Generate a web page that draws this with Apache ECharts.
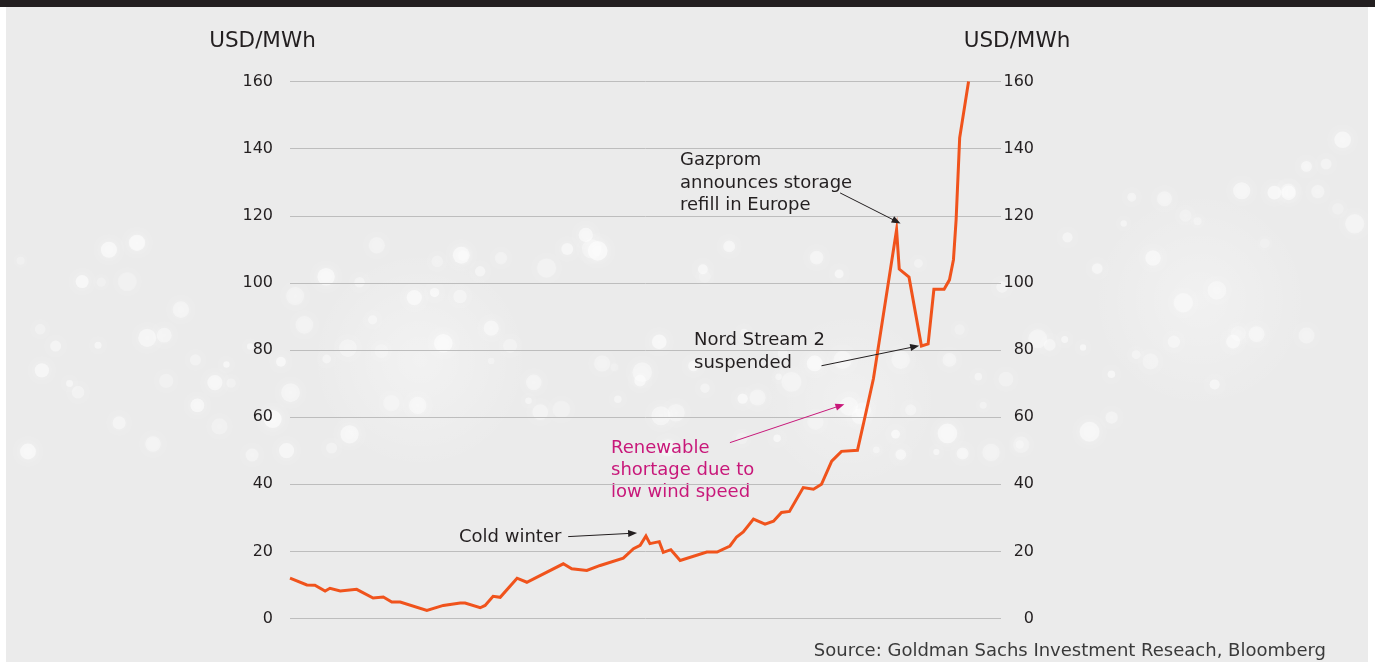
<!DOCTYPE html>
<html>
<head>
<meta charset="utf-8">
<title>Gas price</title>
<script src="https://cdn.jsdelivr.net/npm/echarts@6/dist/echarts.min.js"></script>
<style>
  html, body { margin: 0; padding: 0; background: #fff; }
  #chart { width: 1375px; height: 662px; }
</style>
</head>
<body>
<div id="chart"></div>
<script>
const weeks = [0, 3.8, 5.6, 7.9, 9.0, 11.3, 15.0, 18.7, 21.0, 22.9, 24.8, 30.8, 34.5, 38.3, 39.4,
  42.8, 43.9, 45.7, 47.3, 51.1, 53.3, 61.5, 63.4, 66.8, 69.8, 75.0, 77.3, 78.8, 80.1, 81.0,
  83.1, 84.0, 85.7, 87.8, 93.8, 96.1, 99.0, 100.5, 102.0, 104.3, 106.9, 108.8, 110.6, 112.4,
  115.5, 117.8, 119.6, 121.9, 124.1, 127.7, 129.4, 131.3, 136.5, 137.1, 139.3, 142.1, 143.6,
  144.9, 147.2, 148.4, 149.3, 149.9, 150.7, 152.7];
const price = [12.0, 10.0, 9.9, 8.2, 9.0, 8.2, 8.7, 6.1, 6.4, 4.9, 4.9, 2.4, 3.9, 4.6, 4.6,
  3.2, 3.9, 6.6, 6.3, 12.0, 10.8, 16.3, 14.8, 14.3, 15.8, 18.0, 20.8, 21.8, 24.6, 22.3,
  22.9, 19.7, 20.5, 17.3, 19.8, 19.8, 21.6, 24.3, 25.8, 29.6, 28.1, 29.0, 31.6, 31.9,
  39.0, 38.5, 40.0, 46.9, 49.8, 50.1, 60.1, 71.5, 115.8, 104.1, 101.7, 81.2, 81.8,
  98.1, 98.1, 100.9, 106.9, 118.8, 143.2, 160.0];

// annotation arrows, [from, to] in week / USD coords
const arrows = [
  { from: [62.6, 24.4], to: [77.1, 25.4], color: '#231f20' },
  { from: [99.0, 52.4], to: [123.8, 63.4], color: '#c8187a' },
  { from: [123.8, 126.8], to: [136.5, 118.3], color: '#231f20' },
  { from: [119.6, 75.3], to: [140.6, 81.0], color: '#231f20' }
];

const FONT = 'DejaVu Sans';
const chart = echarts.init(document.getElementById('chart'));

// soft bokeh dots in the background (decoration only)
const bokeh = [];
for (let i = 0; i < 150; i++) {
  const h1 = Math.abs(Math.sin(i * 12.9898) * 43758.5453) % 1;
  const h2 = Math.abs(Math.sin(i * 78.233) * 12345.678) % 1;
  const h3 = Math.abs(Math.sin(i * 3.7) * 9876.54) % 1;
  const x = 10 + (i / 150) * 1355;
  const mid = x < 950 ? 360 - 20 * Math.sin(x / 300) : 370 - (x - 950) * 0.35;
  const y = mid + (h1 - 0.5) * 220;
  bokeh.push({
    type: 'circle', silent: true, z: -9,
    shape: { cx: x + (h3 - 0.5) * 20, cy: y, r: 3 + h2 * 7 },
    style: { fill: 'rgba(255,255,255,' + (0.2 + h3 * 0.35).toFixed(2) + ')', shadowBlur: 12, shadowColor: 'rgba(255,255,255,0.8)' }
  });
}

function haze(cx, cy, rx, ry, a) {
  return {
    type: 'ellipse', silent: true, z: -9, shape: { cx: cx, cy: cy, rx: rx, ry: ry },
    style: { fill: new echarts.graphic.RadialGradient(0.5, 0.5, 0.5, [
      { offset: 0, color: 'rgba(255,255,255,' + a + ')' },
      { offset: 1, color: 'rgba(255,255,255,0)' }
    ]) }
  };
}

function txt(x, y, text, opts) {
  return {
    type: 'text', x: x, y: y, silent: true,
    style: Object.assign({ text: text, fontFamily: FONT, fontSize: 18, fill: '#231f20',
      lineHeight: 22.3, verticalAlign: 'middle' }, opts || {})
  };
}

chart.setOption({
  animation: false,
  backgroundColor: '#ffffff',
  graphic: [
    { type: 'rect', silent: true, z: -10, shape: { x: 6, y: 7, width: 1362, height: 655 }, style: { fill: '#ebebeb' } },
    { type: 'rect', silent: true, z: -10, shape: { x: 0, y: 0, width: 1375, height: 7 }, style: { fill: '#231f20' } },
    haze(420, 360, 450, 110, 0.35),
    haze(850, 400, 250, 90, 0.25),
    haze(1200, 300, 220, 110, 0.3),
    ...bokeh,
    txt(262.5, 41, 'USD/MWh', { fontSize: 21.5, align: 'center' }),
    txt(1017, 41, 'USD/MWh', { fontSize: 21.5, align: 'center' }),
    txt(680, 183, 'Gazprom\nannounces storage\nrefill in Europe'),
    txt(694, 351.7, 'Nord Stream 2\nsuspended'),
    txt(611, 470.5, 'Renewable\nshortage due to\nlow wind speed', { fill: '#c8187a' }),
    txt(459, 537, 'Cold winter'),
    txt(1326, 651, 'Source: Goldman Sachs Investment Reseach, Bloomberg', { fontSize: 18, fill: '#3a3a3a', align: 'right' })
  ],
  grid: { left: 290, right: 374, top: 81.5, bottom: 43.5 },
  xAxis: {
    type: 'value', min: 0, max: 160, show: false
  },
  yAxis: [
    {
      type: 'value', min: 0, max: 160, interval: 20, position: 'left',
      axisLine: { show: false }, axisTick: { show: false },
      axisLabel: { margin: 17, fontSize: 16, fontFamily: FONT, color: '#231f20' },
      splitLine: { lineStyle: { color: '#bdbdbd', width: 1 } }
    },
    {
      type: 'value', min: 0, max: 160, interval: 20, position: 'right',
      axisLine: { show: false }, axisTick: { show: false },
      axisLabel: { margin: 33, align: 'right', fontSize: 16, fontFamily: FONT, color: '#231f20' },
      splitLine: { show: false }
    }
  ],
  series: [{
    type: 'line',
    data: weeks.map((w, i) => [w, price[i]]),
    showSymbol: false,
    silent: true,
    lineStyle: { color: '#f0531c', width: 3, join: 'miter' },
    markLine: {
      silent: true,
      symbol: ['none', 'triangle'],
      symbolSize: [7, 9],
      label: { show: false },
      data: arrows.map(a => [
        { coord: a.from, lineStyle: { color: a.color, width: 1, type: 'solid' }, itemStyle: { color: a.color } },
        { coord: a.to, lineStyle: { color: a.color, width: 1, type: 'solid' }, itemStyle: { color: a.color } }
      ])
    }
  }]
});
</script>
</body>
</html>
